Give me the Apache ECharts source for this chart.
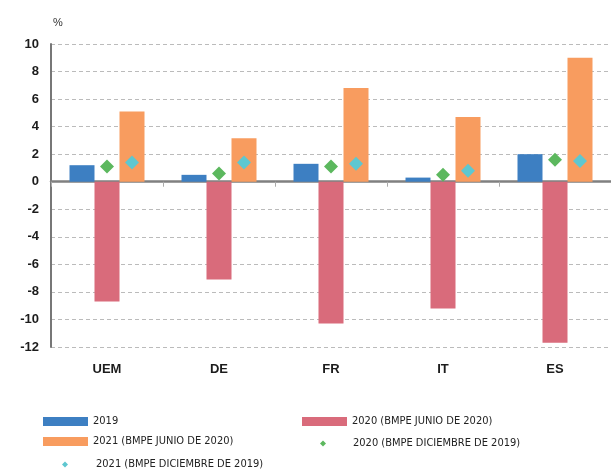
<!DOCTYPE html>
<html>
<head>
<meta charset="utf-8">
<script src="https://cdn.jsdelivr.net/npm/echarts@6/dist/echarts.min.js"></script>
<style>
  html, body { margin: 0; padding: 0; background: #fff; }
  #chart { width: 611px; height: 473px; }
</style>
</head>
<body>
<div id="chart"></div>
<script>
// categorias y series (%)
var categories = ["UEM", "DE", "FR", "IT", "ES"];
var s2019 = [1.2, 0.5, 1.3, 0.3, 2.0];
var s2020Jun = [-8.7, -7.1, -10.3, -9.2, -11.7];
var s2021Jun = [5.1, 3.15, 6.8, 4.7, 9.0];
var s2020Dic = [1.1, 0.6, 1.1, 0.5, 1.6];
var s2021Dic = [1.4, 1.4, 1.3, 0.8, 1.5];
var yTicks = { min: -12, max: 10, interval: 2 };

var names = [
  "2019",
  "2020 (BMPE JUNIO DE 2020)",
  "2021 (BMPE JUNIO DE 2020)",
  "2020 (BMPE DICIEMBRE DE 2019)",
  "2021 (BMPE DICIEMBRE DE 2019)"
];
var colors = ["#3d7fc2", "#d96b7b", "#f89c5f", "#5cb85e", "#5ec7d0"];

var font = "Liberation Sans, Arial, sans-serif";

// leyenda: un componente por elemento para fijar la posicion
function legendItem(name, left, top, w, h, icon, textPad) {
  return {
    data: [{ name: name, icon: icon }],
    left: left,
    top: top,
    itemWidth: w,
    itemHeight: h,
    itemGap: 0,
    padding: 0,
    textStyle: {
      fontFamily: "DejaVu Sans Condensed, Liberation Sans, sans-serif",
      fontSize: 11, color: "#222",
      padding: [0, 0, 0, textPad || 0]
    },
    selectedMode: false
  };
}

var chart = echarts.init(document.getElementById("chart"));
chart.setOption({
  animation: false,
  color: colors,
  grid: { left: 51, right: -5, top: 44, bottom: 126 },
  legend: [
    legendItem(names[0], 43, 416, 45, 9, "rect"),
    legendItem(names[2], 43, 436, 45, 9, "rect"),
    legendItem(names[4], 62, 459, 6, 6, "diamond", 23),
    legendItem(names[1], 302, 416, 45, 9, "rect"),
    legendItem(names[3], 320, 438, 6, 6, "diamond", 22)
  ],
  xAxis: [
    {
      type: "category",
      data: categories,
      axisLine: { onZero: true, lineStyle: { color: "#808080", width: 2.5 } },
      axisTick: { show: true, length: 5, lineStyle: { color: "#aaa" } },
      axisLabel: { show: false },
      splitLine: { show: false }
    },
    {
      type: "category",
      data: categories,
      position: "bottom",
      axisLine: { show: false, onZero: false },
      axisTick: { show: false },
      axisLabel: {
        fontFamily: font, fontSize: 13, color: "#1c1c1c",
        fontWeight: "bold", margin: 16
      }
    }
  ],
  yAxis: {
    type: "value",
    min: yTicks.min,
    max: yTicks.max,
    interval: yTicks.interval,
    name: "%",
    nameGap: 16,
    nameTextStyle: {
      fontFamily: font, fontSize: 11, color: "#333",
      align: "left", padding: [0, 0, 0, 2]
    },
    axisLine: { show: true, lineStyle: { color: "#777", width: 2 } },
    axisTick: { show: false },
    axisLabel: {
      fontFamily: font, fontSize: 13, color: "#1c1c1c",
      fontWeight: "bold", margin: 12
    },
    splitLine: { lineStyle: { color: "#bbb", type: [4, 3] } }
  },
  series: [
    { name: names[0], type: "bar", data: s2019, barWidth: 25, barGap: "0%" },
    { name: names[1], type: "bar", data: s2020Jun, barWidth: 25, barGap: "0%" },
    { name: names[2], type: "bar", data: s2021Jun, barWidth: 25, barGap: "0%" },
    {
      name: names[3], type: "scatter", data: s2020Dic,
      symbol: "diamond", symbolSize: 14, z: 5,
      itemStyle: { opacity: 1 }
    },
    {
      name: names[4], type: "scatter", data: s2021Dic,
      symbol: "diamond", symbolSize: 14, symbolOffset: [25, 0], z: 5,
      itemStyle: { opacity: 1 }
    }
  ]
});
</script>
</body>
</html>
